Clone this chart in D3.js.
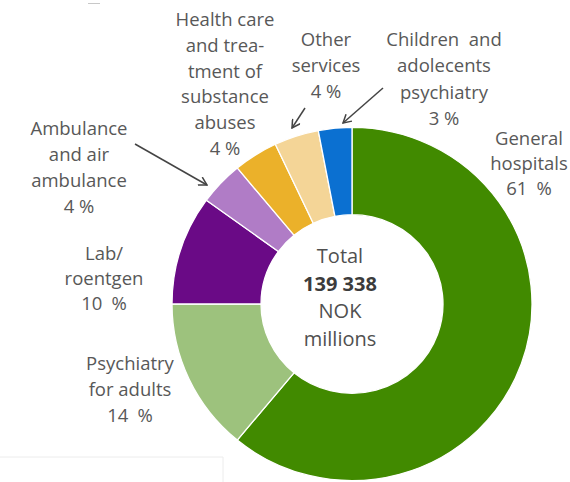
<!DOCTYPE html>
<html>
<head>
<meta charset="utf-8">
<script src="https://cdn.jsdelivr.net/npm/d3@7"></script>
<style>
  html, body { margin: 0; padding: 0; background: #fff; }
  svg { display: block; }
  text { font-family: "Open Sans", "Noto Sans", sans-serif; }
</style>
</head>
<body>
<svg id="chart" width="570" height="482"></svg>
<script>
// Operating costs of specialist health services, share by function
const categories = [
  "General hospitals",
  "Psychiatry for adults",
  "Lab/roentgen",
  "Ambulance and air ambulance",
  "Health care and treatment of substance abuses",
  "Other services",
  "Children and adolecents psychiatry"
];
const shares = [61, 14, 10, 4, 4, 4, 3];
const labelLines = [
  ["General", "hospitals"],
  ["Psychiatry", "for adults"],
  ["Lab/", "roentgen"],
  ["Ambulance", "and air", "ambulance"],
  ["Health care", "and trea-", "tment of", "substance", "abuses"],
  ["Other", "services"],
  ["Children  and", "adolecents", "psychiatry"]
];
const totalLines = ["Total", "139 338", "NOK", "millions"];
const colors = ["#418a00", "#9dc27d", "#6a0a86", "#b07cc6", "#ebb12a", "#f4d597", "#0b70d1"];

// Layout: label anchor (centre x, first baseline y, line step) per slice
const labelLayout = [
  { x: 529, y: 145, dy: 25 },
  { x: 130, y: 370, dy: 26 },
  { x: 104, y: 260, dy: 25 },
  { x: 79,  y: 135, dy: 26 },
  { x: 225, y: 26,  dy: 25.8 },
  { x: 326, y: 46,  dy: 26 },
  { x: 444, y: 46,  dy: 26.3 }
];
// Leader arrows for the thin slices
const arrows = [
  { from: [135, 144], to: [207, 185] },
  { from: [305, 108], to: [292, 128] },
  { from: [383, 88],  to: [343, 123] }
];

const cx = 352, cy = 304, rOuter = 180, rInner = 91;

const svg = d3.select("#chart");

const pie = d3.pie().sort(null).value(d => d)
  .startAngle(0).endAngle(2 * Math.PI);
const arc = d3.arc().innerRadius(rInner).outerRadius(rOuter);

const g = svg.append("g")
  .attr("transform", `translate(${cx},${cy}) scale(1,0.981)`);

g.selectAll("path.slice")
  .data(pie(shares))
  .join("path")
  .attr("class", "slice")
  .attr("d", arc)
  .attr("fill", (d, i) => colors[i])
  .attr("stroke", "#ffffff")
  .attr("stroke-width", 1.3)
  .attr("stroke-linejoin", "round");

// Centre total
const total = svg.append("text")
  .attr("text-anchor", "middle")
  .attr("font-size", 20)
  .attr("fill", "#505050");
totalLines.forEach((t, i) => {
  total.append("tspan")
    .attr("x", 340)
    .attr("y", 263 + i * 27.7)
    .attr("font-weight", i === 1 ? 700 : 400)
    .attr("fill", i === 1 ? "#3c3c3c" : "#505050")
    .text(t);
});

// Slice labels with percentage line
const fmt = v => v >= 10 ? `${v}\u2002%` : `${v} %`;
labelLines.forEach((lines, i) => {
  const L = labelLayout[i];
  const t = svg.append("text")
    .attr("text-anchor", "middle")
    .attr("font-size", 18.5)
    .attr("fill", "#585858")
    .attr("xml:space", "preserve");
  lines.concat([fmt(shares[i])]).forEach((s, j) => {
    t.append("tspan").attr("x", L.x).attr("y", L.y + j * L.dy).text(s);
  });
});

// Arrow heads drawn as open chevrons
svg.append("defs").append("marker")
  .attr("id", "head")
  .attr("viewBox", "0 0 10 10")
  .attr("refX", 9).attr("refY", 5)
  .attr("markerWidth", 10).attr("markerHeight", 10)
  .attr("markerUnits", "userSpaceOnUse")
  .attr("orient", "auto")
  .append("path")
  .attr("d", "M1,0.5 L9,5 L1,9.5")
  .attr("fill", "none")
  .attr("stroke", "#444")
  .attr("stroke-width", 1.5);

svg.selectAll("line.arrow")
  .data(arrows)
  .join("line")
  .attr("class", "arrow")
  .attr("x1", d => d.from[0]).attr("y1", d => d.from[1])
  .attr("x2", d => d.to[0]).attr("y2", d => d.to[1])
  .attr("stroke", "#444")
  .attr("stroke-width", 1.5)
  .attr("marker-end", "url(#head)");

// Faint frame remnants
svg.append("path")
  .attr("d", "M0,457 H223 V482")
  .attr("fill", "none")
  .attr("stroke", "#ececec")
  .attr("stroke-width", 1);
svg.append("line")
  .attr("x1", 88).attr("x2", 100).attr("y1", 3.5).attr("y2", 3.5)
  .attr("stroke", "#c8c8c8").attr("stroke-width", 1);
</script>
</body>
</html>
